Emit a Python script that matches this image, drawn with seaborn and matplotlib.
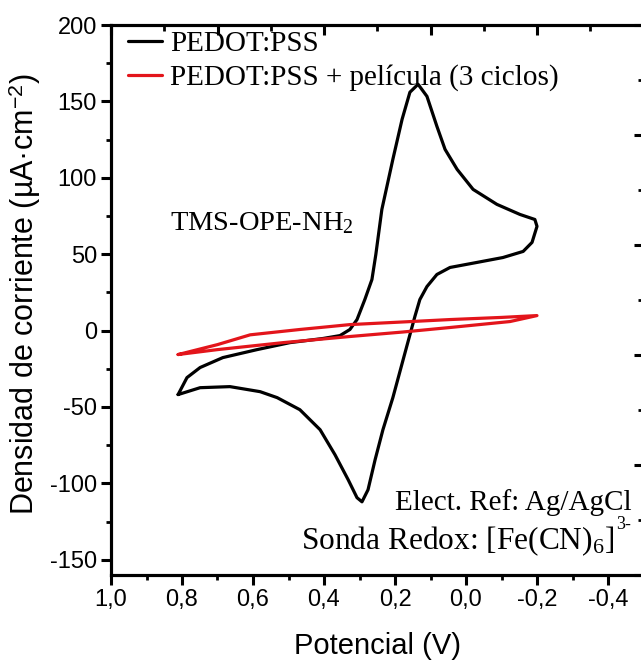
import numpy as np
import pandas as pd
import seaborn as sns
import matplotlib
matplotlib.use("Agg")
import matplotlib.pyplot as plt
from matplotlib.ticker import MultipleLocator, FixedLocator, FixedFormatter

# ---- data ----
pedot_E = [0.811, 0.786, 0.749, 0.685, 0.589, 0.496, 0.403, 0.355, 0.327, 0.307,
           0.285, 0.265, 0.254, 0.237, 0.206, 0.180, 0.158, 0.135, 0.110, 0.082,
           0.059, 0.025, -0.020, -0.087, -0.152, -0.194, -0.200, -0.186, -0.161,
           -0.104, -0.031, 0.045, 0.082, 0.110, 0.130, 0.144, 0.177, 0.206, 0.234,
           0.256, 0.276, 0.293, 0.307, 0.332, 0.369, 0.411, 0.468, 0.532, 0.580,
           0.665, 0.749, 0.811]
pedot_j = [-41.9, -30.8, -24.2, -17.7, -12.5, -7.9, -5.2, -3.3, 0.7, 7.2,
           20.3, 33.4, 49.8, 79.3, 112.1, 138.3, 156.0, 161.2, 153.3, 133.7,
           118.6, 105.5, 92.4, 82.6, 76.0, 72.7, 68.2, 57.7, 51.8,
           47.8, 44.6, 41.3, 36.7, 28.8, 20.3, 9.2, -19.0, -43.9, -64.9,
           -84.5, -104.2, -112.1, -109.4, -97.6, -81.3, -64.9, -51.8, -43.9, -40.0,
           -36.7, -37.4, -41.9]
film_E = [0.811, 0.700, 0.608, 0.468, 0.327, 0.180, 0.045, -0.100, -0.200,
          -0.124, 0.045, 0.180, 0.327, 0.515, 0.701, 0.811]
film_j = [-15.7, -9.2, -2.8, 0.7, 3.9, 5.6, 7.2, 8.6, 9.8,
          5.9, 2.0, -1.0, -3.9, -7.9, -12.5, -15.7]
series_labels = ["PEDOT:PSS", "PEDOT:PSS + película (3 ciclos)"]
series_colors = ["black", "#e3151b"]

x_ticks = [1.0, 0.8, 0.6, 0.4, 0.2, 0.0, -0.2, -0.4]
x_tick_labels = ["1,0", "0,8", "0,6", "0,4", "0,2", "0,0", "-0,2", "-0,4"]
y_ticks = [-150, -100, -50, 0, 50, 100, 150, 200]
y_tick_labels = ["-150", "-100", "-50", "0", "50", "100", "150", "200"]

df = pd.concat([
    pd.DataFrame({"E": pedot_E, "j": pedot_j, "serie": series_labels[0],
                  "orden": range(len(pedot_E))}),
    pd.DataFrame({"E": film_E, "j": film_j, "serie": series_labels[1],
                  "orden": range(len(film_E))}),
])

sns.set_theme(style="ticks")
plt.rcParams["font.family"] = ["Liberation Sans", "DejaVu Sans"]
plt.rcParams["axes.unicode_minus"] = False
plt.rcParams["mathtext.fontset"] = "custom"
plt.rcParams["mathtext.rm"] = "Liberation Serif"
plt.rcParams["mathtext.it"] = "Liberation Serif:italic"
plt.rcParams["mathtext.sf"] = "Liberation Sans"
plt.rcParams["text.color"] = "black"
plt.rcParams["axes.labelcolor"] = "black"
plt.rcParams["xtick.color"] = "black"
plt.rcParams["ytick.color"] = "black"

fig = plt.figure(figsize=(6.41, 6.61), dpi=100)
ax = fig.add_axes([111 / 641, 86 / 661, 532.5 / 641, 550 / 661])

for lab, col in zip(series_labels, series_colors):
    sub = df[df["serie"] == lab]
    sns.lineplot(data=sub, x="E", y="j", sort=False, estimator=None,
                 color=col, lw=2.3, label=lab, ax=ax)

ax.set_xlim(1.0, -0.5)
ax.set_ylim(-160, 200)

ax.xaxis.set_major_locator(FixedLocator(x_ticks))
ax.xaxis.set_major_formatter(FixedFormatter(x_tick_labels))
ax.xaxis.set_minor_locator(MultipleLocator(0.1))
ax.yaxis.set_major_locator(FixedLocator(y_ticks))
ax.yaxis.set_major_formatter(FixedFormatter(y_tick_labels))
ax.yaxis.set_minor_locator(MultipleLocator(25))

for s in ax.spines.values():
    s.set_linewidth(2.2)
    s.set_color("black")
ax.tick_params(which="major", direction="out", length=7, width=2.2,
               labelsize=17, pad=3, colors="black")
ax.tick_params(which="minor", direction="out", length=3.8, width=2.0,
               colors="black")

# opposite axes (Origin style, own tick spacing, no labels)
axt = ax.twiny()
axt.set_xlim(0, 5)
axt.xaxis.set_major_locator(MultipleLocator(1))
axt.xaxis.set_minor_locator(MultipleLocator(0.5))
axt.tick_params(axis="x", which="major", direction="in", length=7, width=2.2,
                labeltop=False, top=True)
axt.tick_params(axis="x", which="minor", direction="in", length=4, width=2.0)
axr = ax.twinx()
axr.set_ylim(0, 5)
axr.yaxis.set_major_locator(MultipleLocator(1))
axr.yaxis.set_minor_locator(MultipleLocator(0.5))
axr.tick_params(axis="y", which="major", direction="in", length=7, width=2.2,
                labelright=False, right=True)
axr.tick_params(axis="y", which="minor", direction="in", length=4, width=2.0)
for a in (axt, axr):
    for s in a.spines.values():
        s.set_linewidth(2.2)
        s.set_color("black")

ax.set_xlabel("Potencial (V)", fontsize=21, labelpad=15)
ax.set_ylabel("Densidad de corriente (µA·cm$^{\\mathsf{-2}}$)", fontsize=22)
ax.yaxis.set_label_coords(-0.128, 0.51)

leg = ax.legend(loc="upper left", bbox_to_anchor=(0.032, 0.989), frameon=False,
                prop={"family": "Liberation Serif", "size": 21},
                handlelength=1.17, handletextpad=0.28, labelspacing=0.24,
                borderpad=0, borderaxespad=0)
for t in leg.get_texts():
    t.set_color("black")

ax.text(0.111, 0.64, "TMS-OPE-NH$\\mathregular{_2}$", transform=ax.transAxes,
        family="Liberation Serif", fontsize=20.5, ha="left", va="center")
ax.text(0.978, 0.131, "Elect. Ref: Ag/AgCl", transform=ax.transAxes,
        family="Liberation Serif", fontsize=21, ha="right", va="center")
ax.text(0.945, 0.062, "Sonda Redox: [Fe(CN)$\\mathregular{_6}$]",
        transform=ax.transAxes, family="Liberation Serif", fontsize=22.6,
        ha="right", va="center")
ax.text(0.948, 0.091, "3-", transform=ax.transAxes,
        family="Liberation Serif", fontsize=13, ha="left", va="center")

fig.savefig("out.png", dpi=100)
